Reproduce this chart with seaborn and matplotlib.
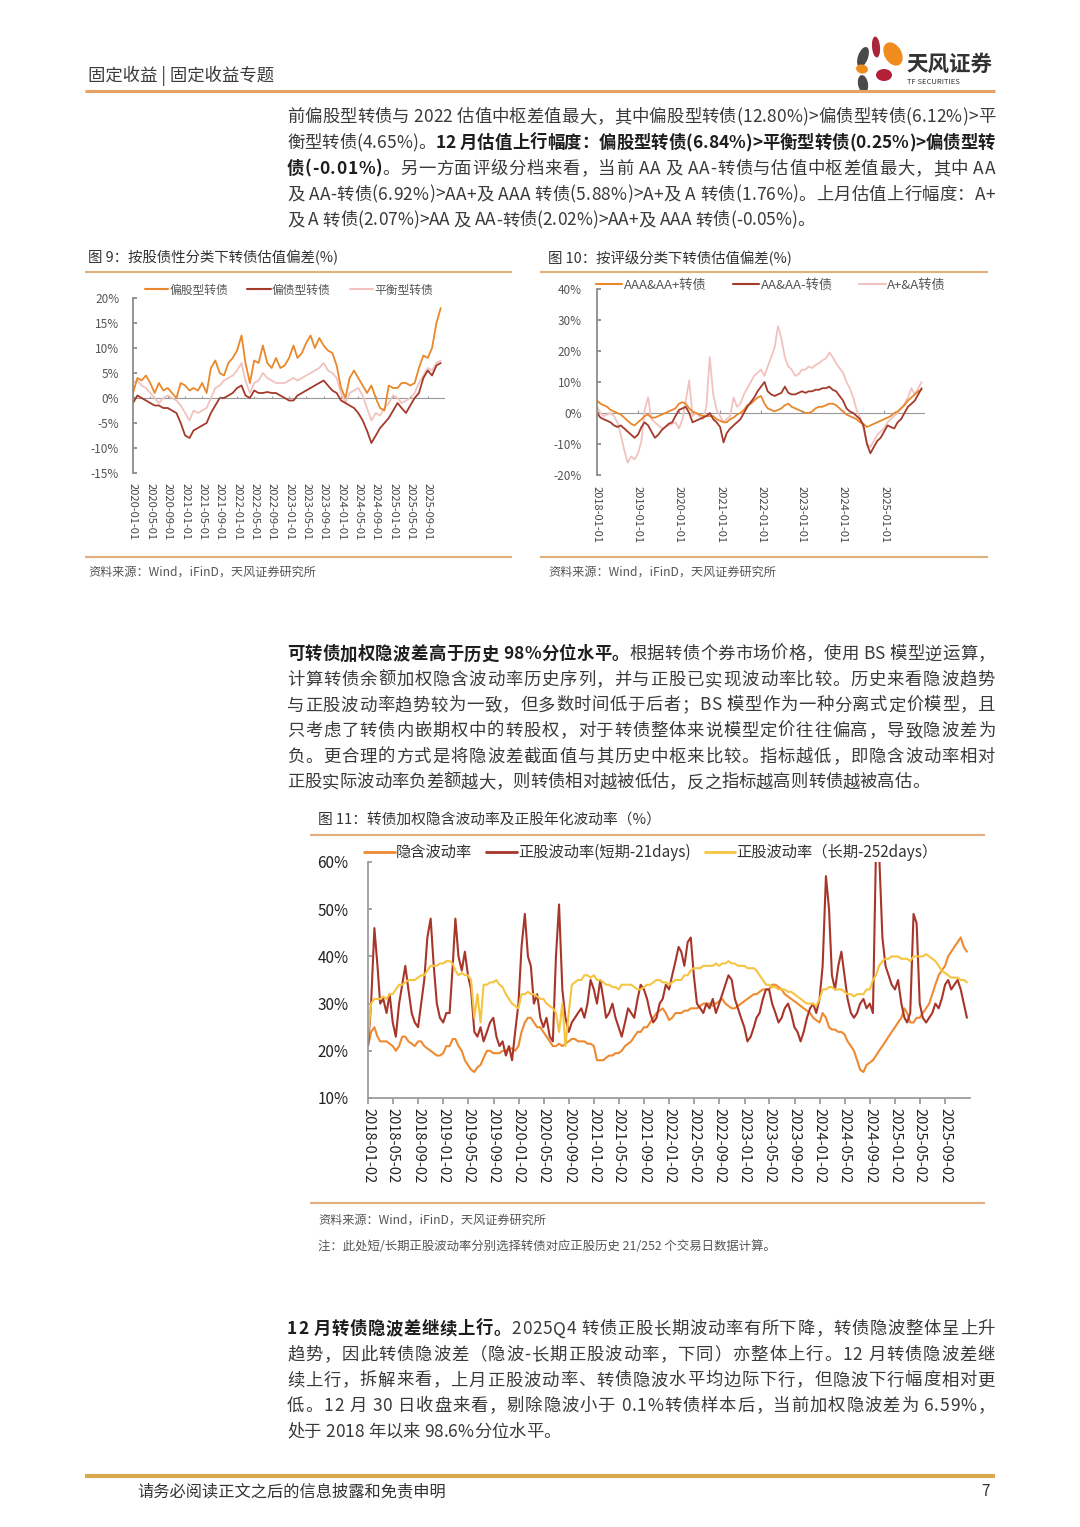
import matplotlib
matplotlib.use('Agg')
import matplotlib.pyplot as plt
from matplotlib.lines import Line2D
from matplotlib.patches import Ellipse
from matplotlib.ticker import FuncFormatter
from matplotlib.font_manager import FontProperties, findfont
from matplotlib.ft2font import FT2Font
import seaborn as sns
import pandas as pd

# ---------------- data ----------------
# Chart 9 (monthly, 2020-01 .. 2025-12)
c9_equity = [1, 4, 3.5, 4.5, 3, 1, 3, 1.5, 2, 1, 0, 3, 2.5, 1.5, 2, 1.5, 3, 1, 6, 7.5, 5, 4.5, 7, 8,
             9.5, 12.5, 7, 3, 7.5, 7, 10.5, 7, 6, 8, 6, 6.5, 8, 10.5, 8, 9, 11, 12.5, 10, 12, 10.5, 9.5, 9, 6.5,
             2, 0, 4, 5.5, 4, 2.5, 1, 2.5, 0, -2, -2.5, 2.5, 2, 2, 3, 3, 2.5, 3, 6, 8.5, 8, 10, 15, 18]
c9_debt = [-1, 0.5, 0, -0.5, -1, -1.5, -1.5, -2, -2, -2.5, -3, -5, -7.5, -8, -6.5, -6, -5.5, -5, -3, -1.5, 0, 0, 0.5, 1,
           2, 2.5, 0.5, 0, 1.5, 1, 1, 1.2, 1, 1, 0.5, 0, -0.5, -0.5, 0.5, 1, 1.5, 2, 2.5, 3, 3.5, 2.5, 1.5, 1,
           -0.5, -1, -1.5, -2, -3, -4.5, -6.5, -9, -7.5, -6, -5, -4, -2.5, -1, -2, -3, -1.5, 0, 1, 4, 5.5, 4.5, 6.5, 7]
c9_balanced = [3, 3.5, 2.5, 2, 1, 0, -1, 0, 0.5, 0, -0.5, -1.5, -3, -4.5, -2.5, -3, -2.5, -2, 0, 2, 2.5, 3.5, 4, 4.5,
               5.5, 7, 3.5, 1, 3, 3.5, 5, 4, 3.5, 3, 3, 3, 3.5, 4, 3.5, 4, 4.5, 5, 5.5, 6, 7, 5.5, 5, 4,
               1, -1, 1, 1.5, 2, 0.5, -2, -4.5, -3, -3.5, -2, -1, 0.5, 0, -1, -0.5, 0, 1, 3, 4.5, 6, 5.5, 7, 7.5]
c9_names = ['偏股型转债', '偏债型转债', '平衡型转债']

# Chart 10 (monthly, 2018-01 .. 2025-12)
c10_high = [4, 3, 2.5, 2, 1, 0.5, 0, -0.5, -1.5, -2.5, -3.5, -4, -3, -2, -1, -0.5, -1.5, -1.5, -1, -0.5, 0, 0.5, 1, 1.5,
            3, 3.5, 3, 1.5, 0.5, 0, -0.5, -1, -1, -1, -1, -2, -2.5, -3, -3, -2, -1.5, -0.5, 0, 1, 2.5, 3, 4, 5,
            5.5, 3, 1.5, 1, 0.5, 1, 1.5, 2.5, 3, 2, 1.5, 1, 0.5, 0, 0, 0.5, 1.5, 2, 2, 2.5, 3, 3, 2.5, 1.5,
            0.5, -0.5, -1, -1.5, -2, -3, -3.5, -4.5, -4, -3.5, -3, -2.5, -2, -1.5, -1, 0, 0.5, 1.5, 2.5, 4, 5, 6, 7, 7.5]
c10_mid = [0, -1.5, -2, -2.5, -3, -4, -4.5, -4, -5, -6, -7, -8, -7, -4.5, -3, -4, -6, -8, -7, -5.5, -4.5, -3.5, -3, -1,
           1, 1.5, 2, 0, -3, -2.5, -2, -1.5, -1, 0, -2, -3, -4.5, -9.5, -6.5, -5, -4, -3, -2, 0, 2, 3.5, 5, 7,
           8.5, 10, 7, 6, 5.5, 6, 6.5, 8.5, 6.5, 6, 6, 6.5, 7, 6.5, 7, 7, 7.5, 7.5, 8, 8, 8.5, 7.5, 7, 5.5,
           4, 1.5, 0.5, 0, -1, -2, -4, -10, -13, -11, -9, -8, -6, -4, -4.5, -5, -3, -2, 0, 2, 3, 4, 6, 8]
c10_low = [2, 0, -1, -0.5, 0, -1, -3, -7, -12, -16, -14, -15, -13, -9, 1, 5, -2, -3, -4, -5, -4.5, -4, -3.5, -3,
           -5, -2, 4, 10.5, -1, 0, -1, -2, 2, 18, 6, 1, -1, -3, -2, -1, 5, 2, 3, 6, 8, 10, 12, 13,
           14, 12, 15, 18, 21, 28, 24, 18, 15, 14, 12, 12.5, 14, 14, 15, 14.5, 15.5, 16, 17, 17.5, 19.5, 18, 16, 14.5,
           13, 10, 8, 5, 1, -1.5, -5, -10, -11, -9, -7, -6, -5, -3, -2, -1, 0, 1.5, 3, 5, 8, 6, 8, 10]
c10_names = ['AAA&AA+转债', 'AA&AA-转债', 'A+&A转债']

# Chart 11 (two readings per month, 2018-01 .. 2025-12)
c11_implied = [21, 24, 25, 23, 22, 22, 22, 21.5, 21, 20, 21, 23, 23, 22, 21.5, 21, 22, 22, 21, 20.5, 20, 19.5, 19, 19,
               19.5, 21, 21, 22.5, 22.5, 21, 20, 18, 17, 16, 15.5, 16.5, 17, 18.5, 20, 20, 19.5, 19.5, 19.5, 20, 20, 20.5, 20.5, 20,
               21, 24, 26, 27, 27, 26, 25, 25, 24, 23, 22, 21, 21, 21.5, 21, 21.5, 22, 22.5, 22.5, 22, 22, 22, 21.5, 21.5,
               21, 18, 18, 18, 18.5, 19, 19, 19.5, 19.5, 20, 21, 21.5, 22, 23, 24, 24, 25, 25, 26, 27, 28, 28.5, 29, 28,
               26.5, 27, 28, 28, 28, 28.5, 28.5, 29, 29, 29, 29.5, 30, 30, 30, 29.5, 30, 30.5, 31, 30, 29.5, 29, 29, 29.5, 30,
               30.5, 31, 31.5, 32, 32, 32.5, 33, 33, 33, 34, 34, 33.5, 33, 32, 31.5, 31, 30.5, 30, 29.5, 29, 28.5, 28, 27, 26.5,
               26, 28, 27, 25, 24.5, 24.5, 24, 24, 23.5, 22, 21, 20, 18, 16, 15.5, 17, 17.5, 18, 19, 20, 21, 22, 23, 24,
               25, 26, 27, 29, 28, 26, 26, 27, 27, 28, 29, 30, 32, 34, 36, 37, 38, 40, 41, 42, 43, 44, 42, 41]
c11_short = [21, 30, 46, 38, 30, 31, 28, 32, 26, 23, 30, 34, 38, 33, 28, 26, 25, 30, 35, 44, 48, 38, 30, 27,
             26, 28, 28, 38, 48, 40, 37, 41, 36, 33, 24, 23, 25, 22, 24, 26, 27, 23, 21, 22, 19, 21, 18, 24,
             30, 42, 49, 40, 38, 30, 32, 27, 25, 27, 23, 22, 40, 51, 33, 27, 24, 26, 27, 28, 29, 27, 30, 35,
             33, 30, 35, 31, 27, 28, 30, 27, 25, 23, 26, 29, 28, 27, 31, 34, 33, 31, 28, 26, 27, 30, 31, 34,
             33, 36, 39, 42, 41, 38, 43, 44, 36, 30, 29, 28, 30, 29, 31, 28, 30, 32, 34, 36, 35, 31, 29, 27,
             25, 22, 23, 25, 27, 28, 31, 33, 33, 30, 28, 26, 27, 29, 30, 28, 25, 24, 22, 24, 27, 29, 30, 28,
             31, 38, 57, 50, 36, 33, 38, 41, 36, 31, 28, 27, 28, 30, 31, 29, 30, 28, 63, 62, 44, 38, 36, 34,
             33, 35, 30, 27, 26, 28, 49, 47, 30, 27, 26, 27, 28, 30, 29, 31, 34, 35, 33, 34, 35, 33, 30, 27]
c11_long = [23, 30, 31, 31, 31, 31.5, 31, 32, 32, 33, 34, 34, 34.5, 35, 35, 35, 35.5, 36, 36, 37, 38, 38, 38, 38.5,
            38.5, 39, 39, 38.5, 37, 36, 36.5, 36, 36, 35, 27, 32, 26, 34, 34, 34.5, 34.5, 35, 34, 33.5, 32, 31, 30, 29.5,
            29, 32, 32, 32.5, 32, 32, 31.5, 31, 31, 30, 29.5, 29, 28, 24, 30, 21, 28, 34, 34.5, 35, 35, 36, 36, 35.5,
            36, 35, 35, 34.5, 34, 34, 33.5, 33.5, 33, 34, 34, 34, 34, 33.5, 33, 33, 33.5, 34, 34, 34.5, 35, 35, 34.5, 34.5,
            34, 34.5, 35, 35, 35, 36, 36, 37, 37.5, 37.5, 37.5, 38, 38, 38, 38, 38.5, 38, 38.5, 38.5, 39, 38.5, 38.5, 38, 38,
            38, 37.5, 37.5, 37.5, 37, 36, 35, 34, 34, 33.5, 33.5, 33, 33, 33, 32.5, 32.5, 32, 31.5, 31, 30.5, 30, 30, 30, 29.5,
            31, 33, 33, 33.5, 33.5, 33, 33, 33, 32.5, 32, 32, 31.5, 32, 32, 32, 33, 33, 35, 36, 38, 39, 39.5, 39.5, 40,
            40, 40, 39.5, 39.5, 39.5, 39, 40, 40, 40, 40, 40.5, 40, 39.5, 39, 38, 37, 36.5, 36, 35.5, 35.5, 35.5, 35, 35, 34.5]
c11_names = ['隐含波动率', '正股波动率(短期-21days)', '正股波动率（长期-252days）']

# text content
header_text = '固定收益 | 固定收益专题'
para1 = [
    [("前偏股型转债与 2022 估值中枢差值最大，其中偏股型转债(12.80%)>偏债型转债(6.12%)>平", False)],
    [("衡型转债(4.65%)。", False), ("12 月估值上行幅度：偏股型转债(6.84%)>平衡型转债(0.25%)>偏债型转", True)],
    [("债(-0.01%)", True), ("。另一方面评级分档来看，当前 AA 及 AA-转债与估值中枢差值最大，其中 AA", False)],
    [("及 AA-转债(6.92%)>AA+及 AAA 转债(5.88%)>A+及 A 转债(1.76%)。上月估值上行幅度：A+", False)],
    [("及 A 转债(2.07%)>AA 及 AA-转债(2.02%)>AA+及 AAA 转债(-0.05%)。", False)],
]
para2 = [
    [("可转债加权隐波差高于历史 98%分位水平。", True), ("根据转债个券市场价格，使用 BS 模型逆运算，", False)],
    [("计算转债余额加权隐含波动率历史序列，并与正股已实现波动率比较。历史来看隐波趋势", False)],
    [("与正股波动率趋势较为一致，但多数时间低于后者；BS 模型作为一种分离式定价模型，且", False)],
    [("只考虑了转债内嵌期权中的转股权，对于转债整体来说模型定价往往偏高，导致隐波差为", False)],
    [("负。更合理的方式是将隐波差截面值与其历史中枢来比较。指标越低，即隐含波动率相对", False)],
    [("正股实际波动率负差额越大，则转债相对越被低估，反之指标越高则转债越被高估。", False)],
]
para3 = [
    [("12 月转债隐波差继续上行。", True), ("2025Q4 转债正股长期波动率有所下降，转债隐波整体呈上升", False)],
    [("趋势，因此转债隐波差（隐波-长期正股波动率，下同）亦整体上行。12 月转债隐波差继", False)],
    [("续上行，拆解来看，上月正股波动率、转债隐波水平均边际下行，但隐波下行幅度相对更", False)],
    [("低。12 月 30 日收盘来看，剔除隐波小于 0.1%转债样本后，当前加权隐波差为 6.59%，", False)],
    [("处于 2018 年以来 98.6%分位水平。", False)],
]
title9 = '图 9：按股债性分类下转债估值偏差(%)'
title10 = '图 10：按评级分类下转债估值偏差(%)'
title11 = '图 11：转债加权隐含波动率及正股年化波动率（%）'
source_text = '资料来源：Wind，iFinD，天风证券研究所'
note_text = '注：此处短/长期正股波动率分别选择转债对应正股历史 21/252 个交易日数据计算。'
footer_text = '请务必阅读正文之后的信息披露和免责申明'
page_no = '7'

# ---------------- setup ----------------
sns.set_theme(style='white')
FAM = ['Noto Sans CJK SC', 'DejaVu Sans']
plt.rcParams['font.family'] = FAM
plt.rcParams['axes.unicode_minus'] = False

W, H = 1080, 1527
fig = plt.figure(figsize=(W / 100, H / 100), dpi=100)
fig.patch.set_facecolor('white')
pg = fig.add_axes([0, 0, 1, 1], zorder=0)
pg.set_xlim(0, W)
pg.set_ylim(H, 0)
pg.axis('off')

ORANGE = '#E8882A'
DRED = '#A43A2B'
PINK = '#F1C3C0'
RULE = '#E2B07A'

_fonts = {}


def get_font(bold, size):
    key = (bold, size)
    if key not in _fonts:
        path = findfont(FontProperties(family='Noto Sans CJK SC', weight='bold' if bold else 'normal'))
        f = FT2Font(path)
        f.set_size(size, 100)
        _fonts[key] = f
    return _fonts[key]


def adv(ch, bold, size):
    em = size * 100 / 72
    try:
        g = get_font(bold, size).load_char(ord(ch))
        a = g.linearHoriAdvance / 65536.0
        if a <= 0:
            raise ValueError
        return a
    except Exception:
        return em * (1.0 if ord(ch) > 0x2E80 else 0.55)


def put_line(yc, segs, x0=287, x1=995, size=12.5, justify=True):
    items = [(ch, b) for text, b in segs for ch in text]
    ws = [adv(ch, b, size) for ch, b in items]
    total = sum(ws)
    gap = (x1 - x0 - total) / (len(items) - 1) if justify and len(items) > 1 else 0.0
    x = x0
    base = yc + size * 100 / 72 * 0.36
    for (ch, b), w in zip(items, ws):
        if ch != ' ':
            pg.text(x, base, ch, fontsize=size, fontweight='bold' if b else 'normal',
                    color='#1e1e1e' if b else '#3a3a3a', va='baseline', ha='left')
        x += w + gap


def put_para(lines, y0, dy):
    for i, segs in enumerate(lines):
        put_line(y0 + i * dy, segs, justify=(i < len(lines) - 1))


def hline(y, x0, x1, color=RULE, lw=1.5):
    pg.plot([x0, x1], [y, y], color=color, lw=lw, solid_capstyle='butt')


def ax_rect(l, t, r, b):
    return [l / W, 1 - b / H, (r - l) / W, (b - t) / H]


pct = FuncFormatter(lambda v, p: f'{v:.0f}%')

# ---------------- header ----------------
pg.text(88, 76, header_text, fontsize=12.5, color='#3a3a3a', va='center', ha='left')
hline(91, 85, 995, color='#E8A266', lw=2.2)
for (cx, cy, w, h, ang, col) in [(863, 57, 10, 21, 20, '#4a4a4a'), (876, 47, 8, 21, -5, '#A8253A'),
                                 (893, 54, 17, 25, -30, '#F08C1E'), (862, 69, 12, 9, 10, '#F08C1E'),
                                 (884, 75, 16, 12, 0, '#B32038'), (863, 84, 10, 18, -10, '#4a4a4a')]:
    pg.add_patch(Ellipse((cx, cy), w, h, angle=ang, color=col, lw=0))
pg.text(906, 64, '天风证券', fontsize=15.5, fontweight='bold', color='#333333', va='center', ha='left')
pg.text(907, 82, 'TF SECURITIES', fontsize=5.5, color='#333333', va='center', ha='left')

# ---------------- paragraphs ----------------
put_para(para1, 116, 25.8)
put_para(para2, 653, 25.6)
put_para(para3, 1328, 25.6)

# ---------------- chart frames / titles ----------------
pg.text(88, 258, title9, fontsize=10.4, color='#333333', va='center', ha='left')
pg.text(548, 258, title10, fontsize=10.4, color='#333333', va='center', ha='left')
hline(272, 85, 512)
hline(272, 540, 988)
hline(557, 85, 512)
hline(557, 540, 988)
pg.text(88, 572, source_text, fontsize=8.7, color='#555555', va='center', ha='left')
pg.text(548, 572, source_text, fontsize=8.7, color='#555555', va='center', ha='left')

pg.text(318, 820, title11, fontsize=10.6, color='#333333', va='center', ha='left')
hline(835, 310, 985)
hline(1203, 310, 985)
pg.text(318, 1220, source_text, fontsize=8.7, color='#555555', va='center', ha='left')
pg.text(318, 1247, note_text, fontsize=8.9, color='#555555', va='center', ha='left')

# footer
hline(1476, 85, 995, color='#D9A84E', lw=3)
pg.text(137, 1492, footer_text, fontsize=11.7, color='#333333', va='center', ha='left')
pg.text(990, 1492, page_no, fontsize=11, color='#333333', va='center', ha='right')

# ---------------- chart 9 ----------------
d9 = pd.date_range('2020-01-01', periods=len(c9_equity), freq='MS')
ax9 = fig.add_axes(ax_rect(133, 298, 445, 473), zorder=2)
ax9.set_facecolor('none')
for vals, col in [(c9_balanced, PINK), (c9_debt, DRED), (c9_equity, ORANGE)]:
    sns.lineplot(x=d9, y=vals, ax=ax9, color=col, lw=1.3)
ax9.set_xlim(pd.Timestamp('2020-01-01'), pd.Timestamp('2025-12-31'))
ax9.set_ylim(-15, 20)
ax9.set_yticks([-15, -10, -5, 0, 5, 10, 15, 20])
ax9.yaxis.set_major_formatter(pct)
t9 = pd.date_range('2020-01-01', '2025-09-01', freq='4MS')
ax9.set_xticks(t9, [t.strftime('%Y-%m-%d') for t in t9], rotation=270, va='top', ha='center')
ax9.axhline(0, color='#999999', lw=0.8, zorder=0)
ax9.vlines(t9, 0, 0.5, color='#999999', lw=0.8)
for s in ['top', 'right', 'bottom']:
    ax9.spines[s].set_visible(False)
ax9.spines['left'].set_color('#888888')
ax9.tick_params(axis='y', labelsize=8.5, labelcolor='#555555', length=3, color='#888888', direction='in', pad=10, left=True)
ax9.tick_params(axis='x', labelsize=8, labelcolor='#444444', length=0, pad=7)
ax9.set_xlabel('')
ax9.set_ylabel('')
h9 = [Line2D([], [], color=c, lw=1.5) for c in [ORANGE, DRED, PINK]]
ax9.legend(h9, c9_names, ncol=3, loc='center', bbox_to_anchor=(0.5, 1.045), frameon=False,
           fontsize=8.5, labelcolor='#555555', handlelength=2.0, handletextpad=0.1, columnspacing=1.6)

# ---------------- chart 10 ----------------
d10 = pd.date_range('2018-01-01', periods=len(c10_high), freq='MS')
ax10 = fig.add_axes(ax_rect(597, 289, 925, 475), zorder=2)
ax10.set_facecolor('none')
for vals, col in [(c10_low, PINK), (c10_high, ORANGE), (c10_mid, DRED)]:
    sns.lineplot(x=d10, y=vals, ax=ax10, color=col, lw=1.3)
ax10.set_xlim(pd.Timestamp('2018-01-01'), pd.Timestamp('2025-12-31'))
ax10.set_ylim(-20, 40)
ax10.set_yticks([-20, -10, 0, 10, 20, 30, 40])
ax10.yaxis.set_major_formatter(pct)
t10 = pd.date_range('2018-01-01', '2025-01-01', freq='12MS')
ax10.set_xticks(t10, [t.strftime('%Y-%m-%d') for t in t10], rotation=270, va='top', ha='center')
ax10.axhline(0, color='#999999', lw=0.8, zorder=0)
ax10.vlines(t10, 0, 0.9, color='#999999', lw=0.8)
for s in ['top', 'right', 'bottom']:
    ax10.spines[s].set_visible(False)
ax10.spines['left'].set_color('#888888')
ax10.tick_params(axis='y', labelsize=8.5, labelcolor='#555555', length=3, color='#888888', direction='in', pad=11, left=True)
ax10.tick_params(axis='x', labelsize=8, labelcolor='#444444', length=0, pad=8)
ax10.set_xlabel('')
ax10.set_ylabel('')
h10 = [Line2D([], [], color=c, lw=1.5) for c in [ORANGE, DRED, PINK]]
ax10.legend(h10, c10_names, ncol=3, loc='center', bbox_to_anchor=(0.53, 1.02), frameon=False,
            fontsize=9.5, labelcolor='#555555', handlelength=2.0, handletextpad=0.1, columnspacing=2.0)

# ---------------- chart 11 ----------------
months = pd.date_range('2018-01-01', periods=96, freq='MS')
d11 = pd.DatetimeIndex([d for m in months for d in (m, m + pd.Timedelta(days=15))])
ax11 = fig.add_axes(ax_rect(368, 862, 970, 1098), zorder=2)
ax11.set_facecolor('none')
C_IMP, C_SHORT, C_LONG = '#EE8A30', '#A8352A', '#F5C440'
for vals, col in [(c11_implied, C_IMP), (c11_short, C_SHORT), (c11_long, C_LONG)]:
    sns.lineplot(x=d11, y=vals, ax=ax11, color=col, lw=1.5)
ax11.set_xlim(pd.Timestamp('2018-01-01'), pd.Timestamp('2025-12-31'))
ax11.set_ylim(10, 60)
ax11.set_yticks([10, 20, 30, 40, 50, 60])
ax11.yaxis.set_major_formatter(pct)
t11 = pd.date_range('2018-01-01', '2025-09-01', freq='4MS') + pd.Timedelta(days=1)
ax11.set_xticks(t11, [t.strftime('%Y-%m-%d') for t in t11], rotation=270, va='top', ha='center')
for s in ['top', 'right']:
    ax11.spines[s].set_visible(False)
ax11.spines['left'].set_color('#999999')
ax11.spines['bottom'].set_color('#999999')
ax11.tick_params(axis='y', labelsize=11, labelcolor='#222222', length=3, color='#999999', direction='in', pad=14, left=True)
ax11.tick_params(axis='x', labelsize=10.5, labelcolor='#222222', length=4, color='#999999', direction='out', pad=3, bottom=True)
ax11.set_xlabel('')
ax11.set_ylabel('')
h11 = [Line2D([], [], color=c, lw=2) for c in [C_IMP, C_SHORT, C_LONG]]
ax11.legend(h11, c11_names, ncol=3, loc='center', bbox_to_anchor=(0.47, 1.04), frameon=False,
            fontsize=11, labelcolor='#333333', handlelength=2.0, handletextpad=0.1, columnspacing=0.9)

fig.savefig('out.png', dpi=100, facecolor='white')
